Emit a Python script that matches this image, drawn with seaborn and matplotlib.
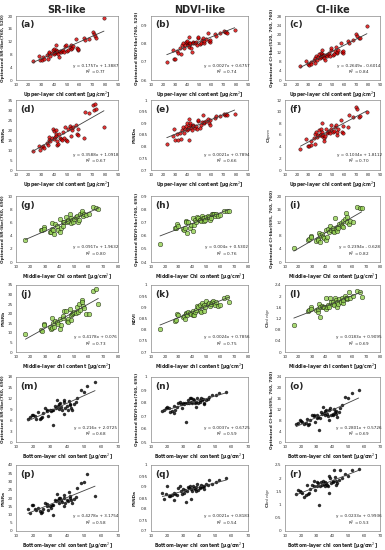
import numpy as np
import pandas as pd
import matplotlib
matplotlib.use("Agg")
import matplotlib.pyplot as plt
import seaborn as sns

### ==================== DATA ==================== ###

# chl content per layer (shared by the panels of that layer)
upper_x = [23, 28, 29, 30, 31.5, 32, 34, 35, 35.5, 36, 37, 38, 39, 39.5, 40, 40.5, 41, 41,
           41.5, 42, 42.5, 43, 44, 44.5, 45, 46, 47, 48, 48.5, 49, 50, 51, 52, 53, 53.5, 54,
           55, 57, 58, 58.5, 59, 63, 64, 67, 70, 71, 72, 73, 79]
middle_x = [16.5, 27, 28, 29, 29.5, 33, 34, 34.5, 35, 35.5, 36, 37, 38, 39, 40, 40.5, 41, 42,
            42.5, 43, 44, 45, 45.5, 46, 47, 47.5, 48, 48.5, 49, 50, 51, 52, 52.5, 53, 54, 55,
            55.5, 56, 57, 58, 60, 63, 65, 66.5]
bottom_x = [17, 18, 19.5, 20, 21, 22, 23, 24, 24.5, 25, 26, 27, 28, 28.5, 29, 30, 30.5, 31,
            31.5, 32, 33, 33.5, 34, 34.5, 35, 35.5, 36, 36.5, 37, 38, 38, 38.5, 39, 40, 40.5,
            41, 41.5, 42, 42.5, 43, 44, 45, 46, 48, 50, 52, 56.5]

# upper layer
a_y = [5.9, 7.6, 6.1, 6.1, 7.2, 6.5, 7.8, 6.7, 8.3, 8.9, 7.5, 8.4, 9.3, 8.0, 9.8, 8.4, 9.5, 8.7,
       10.9, 8.9, 9.2, 8.1, 7.3, 9.0, 8.8, 9.2, 9.5, 8.7, 10.6, 10.9, 9.0, 9.4, 10.3, 10.9, 9.8,
       10.0, 10.6, 12.8, 10.0, 9.5, 9.8, 13.1, 12.5, 12.9, 14.9, 14.3, 13.6, 13.2, 19.3]
b_y = [0.70, 0.765, 0.715, 0.715, 0.76, 0.745, 0.775, 0.74, 0.79, 0.80, 0.775, 0.79, 0.81, 0.80,
       0.815, 0.79, 0.80, 0.78, 0.835, 0.795, 0.80, 0.775, 0.755, 0.81, 0.80, 0.80, 0.81, 0.79,
       0.83, 0.835, 0.795, 0.80, 0.82, 0.83, 0.80, 0.815, 0.825, 0.855, 0.815, 0.81, 0.82, 0.85,
       0.84, 0.855, 0.87, 0.865, 0.86, 0.855, 0.875]
c_y = [6.3, 8.5, 6.8, 6.7, 8.0, 7.2, 8.8, 7.5, 9.8, 10.5, 8.6, 10.0, 11.2, 9.5, 12.0, 10.0, 11.5,
       10.4, 13.2, 10.7, 11.0, 9.6, 8.8, 11.0, 10.6, 11.2, 11.6, 10.4, 13.2, 13.8, 10.8, 11.5,
       12.6, 14.3, 11.8, 12.4, 13.2, 16.0, 12.2, 11.6, 12.5, 17.0, 16.2, 17.4, 20.0, 19.4, 18.5,
       18.2, 23.5]
d_y = [9.5, 12.0, 10.0, 11.5, 12.0, 11.0, 13.5, 12.5, 16.5, 15.0, 14.5, 16.0, 20.5, 15.5, 19.5,
       16.5, 18.0, 17.0, 20.0, 14.5, 12.5, 13.0, 18.0, 16.0, 15.5, 15.0, 19.0, 16.0, 21.5, 15.0,
       14.5, 20.5, 22.0, 21.0, 17.0, 20.0, 21.5, 22.5, 18.0, 17.5, 20.5, 16.0, 29.0, 28.5, 32.5,
       30.0, 33.0, 30.5, 21.5]
e_y = [0.81, 0.845, 0.875, 0.83, 0.855, 0.83, 0.86, 0.835, 0.87, 0.885, 0.86, 0.875, 0.89, 0.87,
       0.90, 0.875, 0.885, 0.83, 0.92, 0.895, 0.90, 0.88, 0.87, 0.895, 0.89, 0.88, 0.89, 0.875,
       0.91, 0.915, 0.88, 0.895, 0.905, 0.935, 0.90, 0.905, 0.91, 0.92, 0.90, 0.895, 0.915, 0.925,
       0.93, 0.93, 0.94, 0.935, 0.94, 0.935, 0.94]
f_y = [3.6, 5.3, 4.2, 4.2, 4.3, 5.0, 5.5, 4.5, 6.2, 6.5, 5.6, 6.0, 6.9, 6.0, 7.1, 6.1, 6.6, 5.8,
       8.1, 6.0, 5.5, 5.0, 5.9, 7.0, 6.4, 6.5, 6.7, 6.3, 7.8, 7.1, 6.5, 6.7, 7.3, 7.7, 6.0, 6.6,
       7.0, 8.6, 6.6, 6.4, 7.6, 7.4, 9.5, 9.1, 10.8, 10.5, 9.1, 9.3, 9.9]

# middle layer
g_y = [3.3, 4.9, 4.8, 5.3, 5.0, 4.6, 4.5, 5.0, 5.9, 4.8, 4.2, 5.7, 5.5, 4.8, 6.5, 4.5, 5.2, 6.1,
       5.4, 6.1, 6.8, 6.0, 6.3, 6.2, 7.3, 6.7, 5.9, 6.4, 6.0, 6.5, 6.8, 6.9, 6.1, 6.4, 7.2, 7.5,
       7.7, 7.0, 7.2, 7.1, 7.2, 8.4, 8.2, 8.1]
h_y = [0.535, 0.66, 0.66, 0.685, 0.67, 0.65, 0.64, 0.66, 0.71, 0.70, 0.62, 0.70, 0.66, 0.68,
       0.73, 0.635, 0.68, 0.72, 0.70, 0.74, 0.73, 0.72, 0.72, 0.71, 0.75, 0.73, 0.71, 0.735, 0.72,
       0.74, 0.75, 0.74, 0.72, 0.735, 0.76, 0.765, 0.76, 0.75, 0.76, 0.75, 0.755, 0.79, 0.785, 0.785]
i_y = [4.3, 6.7, 7.0, 8.0, 7.5, 6.3, 6.9, 6.6, 8.8, 8.2, 6.2, 8.6, 7.5, 7.3, 9.8, 6.8, 7.5, 10.0,
       9.0, 11.0, 9.8, 9.5, 10.2, 9.0, 13.2, 10.0, 9.5, 10.5, 10.2, 11.5, 11.8, 11.0, 10.5, 12.5,
       13.0, 14.7, 13.5, 12.0, 11.5, 12.5, 12.0, 16.6, 16.3, 16.3]
j_y = [9.2, 11.5, 11.2, 14.5, 14.2, 13.0, 12.0, 12.5, 18.0, 15.0, 12.8, 16.0, 15.5, 14.5, 17.0,
       12.0, 14.0, 18.0, 19.0, 21.5, 21.5, 16.0, 17.5, 15.8, 22.5, 19.5, 16.5, 20.0, 20.5, 21.0,
       20.5, 23.5, 21.0, 25.0, 22.0, 27.0, 26.0, 24.0, 23.0, 20.0, 20.0, 32.0, 33.0, 25.0]
k_y = [0.805, 0.84, 0.845, 0.87, 0.865, 0.855, 0.86, 0.85, 0.875, 0.87, 0.865, 0.88, 0.875, 0.87,
       0.885, 0.865, 0.865, 0.88, 0.89, 0.905, 0.90, 0.885, 0.91, 0.88, 0.92, 0.905, 0.885, 0.91,
       0.90, 0.93, 0.915, 0.92, 0.905, 0.915, 0.925, 0.93, 0.92, 0.91, 0.925, 0.905, 0.91, 0.94,
       0.945, 0.925]
l_y = [0.98, 1.48, 1.50, 1.60, 1.55, 1.50, 1.42, 1.55, 1.72, 1.60, 1.25, 1.65, 1.62, 1.62, 1.92,
       1.55, 1.60, 1.70, 1.62, 1.95, 1.80, 1.72, 1.78, 1.70, 1.95, 1.85, 1.60, 1.80, 1.72, 1.90,
       1.80, 1.92, 1.75, 1.85, 2.00, 1.95, 1.90, 1.92, 2.15, 1.95, 2.00, 2.18, 2.15, 1.98]

# bottom layer
m_y = [6.5, 6.8, 7.5, 7.4, 7.2, 6.5, 8.3, 6.3, 6.6, 6.8, 8.0, 9.3, 9.0, 8.7, 7.2, 9.0, 8.5, 8.8,
       4.8, 9.0, 10.0, 9.5, 11.6, 10.0, 10.5, 9.2, 10.8, 9.8, 9.0, 7.8, 11.0, 11.7, 9.5, 10.0, 9.0,
       11.3, 10.2, 10.5, 9.5, 8.8, 10.5, 11.0, 12.2, 14.5, 13.8, 15.5, 16.5]
n_y = [0.735, 0.75, 0.76, 0.77, 0.76, 0.73, 0.735, 0.78, 0.725, 0.745, 0.77, 0.80, 0.81, 0.79,
       0.76, 0.80, 0.79, 0.80, 0.655, 0.80, 0.82, 0.80, 0.84, 0.81, 0.835, 0.80, 0.83, 0.82, 0.80,
       0.77, 0.81, 0.84, 0.80, 0.82, 0.81, 0.84, 0.82, 0.83, 0.80, 0.79, 0.82, 0.83, 0.85, 0.86,
       0.865, 0.875, 0.885]
o_y = [6.6, 7.0, 8.0, 7.8, 7.5, 6.5, 7.0, 8.5, 6.3, 6.8, 8.0, 10.0, 9.8, 9.5, 7.5, 9.8, 9.0, 9.2,
       4.5, 9.0, 11.0, 10.5, 12.8, 10.8, 11.5, 10.0, 12.0, 10.5, 9.5, 8.2, 12.0, 12.5, 10.0, 10.5,
       10.0, 12.3, 11.0, 11.5, 10.5, 9.3, 11.0, 12.5, 13.8, 16.8, 16.2, 18.0, 19.3]
p_y = [13.2, 11.0, 16.0, 15.8, 13.5, 13.0, 14.0, 12.0, 11.0, 11.5, 13.5, 17.0, 16.5, 15.0, 13.0,
       15.0, 14.0, 16.0, 9.5, 15.5, 19.0, 18.0, 22.5, 19.0, 20.0, 17.0, 20.0, 19.0, 17.5, 15.0,
       20.0, 22.0, 17.0, 19.0, 18.0, 23.5, 20.0, 21.0, 18.5, 17.0, 19.5, 20.5, 26.0, 29.0, 30.0,
       34.5, 21.0]
q_y = [0.875, 0.845, 0.87, 0.905, 0.86, 0.86, 0.865, 0.875, 0.84, 0.87, 0.865, 0.895, 0.905, 0.88,
       0.87, 0.89, 0.875, 0.885, 0.83, 0.88, 0.90, 0.895, 0.905, 0.89, 0.845, 0.88, 0.905, 0.895,
       0.89, 0.88, 0.90, 0.915, 0.885, 0.90, 0.895, 0.91, 0.90, 0.905, 0.89, 0.905, 0.915, 0.91,
       0.93, 0.915, 0.925, 0.93, 0.94]
r_y = [1.40, 1.55, 1.50, 1.48, 1.45, 1.30, 1.38, 1.75, 1.42, 1.45, 1.60, 1.75, 1.90, 1.70, 1.55,
       1.85, 1.70, 1.80, 1.00, 1.70, 1.85, 1.75, 1.90, 1.78, 1.85, 1.72, 1.80, 1.75, 1.70, 1.45,
       2.10, 2.00, 1.80, 1.85, 1.90, 2.30, 2.05, 1.90, 1.75, 1.80, 1.95, 2.30, 2.00, 2.15, 2.10,
       2.30, 2.35]

col_titles = ["SR-like", "NDVI-like", "CI-like"]
letters = list("abcdefghijklmnopqr")
equations = ["y = 0.1757x + 1.3887", "y = 0.0027x + 0.6757", "y = 0.2649x - 0.6014",
             "y = 0.3588x + 1.0918", "y = 0.0021x + 0.7894", "y = 0.1034x + 1.8112",
             "y = 0.0917x + 1.9632", "y = 0.004x + 0.5302", "y = 0.2394x - 0.628",
             "y = 0.4178x + 0.076", "y = 0.0024x + 0.7856", "y = 0.0183x + 0.9095",
             "y = 0.216x + 2.0725", "y = 0.0037x + 0.6725", "y = 0.2801x + 0.5726",
             "y = 0.4278x + 3.1754", "y = 0.0021x + 0.8183", "y = 0.0233x + 0.9936"]
r2_values = ["0.77", "0.74", "0.84", "0.67", "0.66", "0.70", "0.80", "0.76", "0.82",
             "0.73", "0.75", "0.69", "0.68", "0.59", "0.69", "0.58", "0.54", "0.53"]
y_labels = ["Optimized SR-like(760, 520)", "Optimized NDVI-like(760, 520)",
            "Optimized CI-like(520, 760, 760)",
            "PSSRa", "PSNDa", "CI$_{green}$",
            "Optimized SR-like(760, 690)", "Optimized NDVI-like(760, 695)",
            "Optimized CI-like(695, 760, 760)",
            "PSSRb", "NDVI", "CI$_{red\\ edge}$",
            "Optimized SR-like(760, 690)", "Optimized NDVI-like(760, 695)",
            "Optimized CI-like(695, 760, 780)",
            "PSSRa", "PSNDa", "CI$_{red\\ edge}$"]
x_labels = ["Upper-layer chl content [\u03bcg/cm$^2$]",
            "Upper-layer chl content [\u03bcg/cm$^2$]",
            "Middle-layer Chl content [\u03bcg/cm$^2$]",
            "Middle-layer chl content [\u03bcg/cm$^2$]",
            "Bottom-layer chl content [\u03bcg/cm$^2$]",
            "Bottom-layer chl content [\u03bcg/cm$^2$]"]

# y axis (min, max, step) per panel
y_ranges = [(0, 20, 4), (0.6, 0.95, 0.1), (0, 28, 4),
            (0, 35, 5), (0.7, 1.0, 0.05), (0, 12, 2),
            (0, 10, 2), (0.4, 0.9, 0.1), (0, 20, 4),
            (0, 35, 5), (0.7, 1.0, 0.05), (0, 2.4, 0.4),
            (0, 18, 3), (0.5, 1.0, 0.1), (0, 24, 4),
            (0, 40, 5), (0.7, 1.0, 0.05), (0, 2.5, 0.5)]

panel_y = [a_y, b_y, c_y, d_y, e_y, f_y, g_y, h_y, i_y,
           j_y, k_y, l_y, m_y, n_y, o_y, p_y, q_y, r_y]

### ==================== PLOT ==================== ###

sns.set_style("white")
plt.rcParams['font.family'] = ['DejaVu Sans']

W, H = 385, 550
fig = plt.figure(figsize=(W / 100, H / 100), dpi=100)

col_left = [16, 151, 285]
col_width = [102, 97, 95]
row_top = [16, 100, 196, 285, 377, 465]
row_bottom = [80, 170, 262, 352, 442, 531]

layer_x = [upper_x, upper_x, middle_x, middle_x, bottom_x, bottom_x]
x_max = [90, 90, 80, 80, 70, 70]
marker_style = [
    dict(marker="D", s=6, color="#e00000", edgecolor="black", linewidths=0.35),
    dict(marker="D", s=6, color="#e00000", edgecolor="black", linewidths=0.35),
    dict(marker="o", s=11, color="#92d050", edgecolor="black", linewidths=0.35),
    dict(marker="o", s=11, color="#92d050", edgecolor="black", linewidths=0.35),
    dict(marker="D", s=5, color="black", edgecolor="black", linewidths=0.2),
    dict(marker="D", s=5, color="black", edgecolor="black", linewidths=0.2),
]

for idx in range(18):
    row, col = divmod(idx, 3)
    l = col_left[col] / W
    b = 1 - row_bottom[row] / H
    w = col_width[col] / W
    h = (row_bottom[row] - row_top[row]) / H
    ax = fig.add_axes([l, b, w, h])

    df = pd.DataFrame({"x": layer_x[row], "y": panel_y[idx]})
    sns.regplot(data=df, x="x", y="y", ax=ax, ci=None, truncate=True,
                scatter_kws=marker_style[row],
                line_kws=dict(color="#404040", lw=0.6))

    ymin, ymax, ystep = y_ranges[idx]
    ax.set_xlim(10, x_max[row])
    ax.set_xticks(np.arange(10, x_max[row] + 1, 10))
    ax.set_ylim(ymin, ymax)
    yt = np.arange(ymin, ymax + ystep * 0.01, ystep)
    ax.set_yticks(yt)
    ax.set_yticklabels([f"{v:g}" for v in np.round(yt, 2)])
    ax.tick_params(labelsize=3.0, length=1.5, width=0.4, pad=1, colors="#333333")
    for sp in ax.spines.values():
        sp.set_color("#888888")
        sp.set_linewidth(0.5)

    ax.set_xlabel(x_labels[row], fontsize=3.3, fontweight="bold", labelpad=1.5)
    ax.set_ylabel(y_labels[idx], fontsize=3.1, fontweight="bold", labelpad=1.5)

    ax.text(0.04, 0.93, f"({letters[idx]})", transform=ax.transAxes,
            fontsize=6.5, fontweight="bold", va="top", ha="left")
    ax.text(0.78, 0.22, equations[idx], transform=ax.transAxes,
            fontsize=3.0, ha="center", va="center")
    ax.text(0.78, 0.12, f"R$^2$ = {r2_values[idx]}", transform=ax.transAxes,
            fontsize=3.0, ha="center", va="center")

# column titles
for col, title in enumerate(col_titles):
    cx = (col_left[col] + col_width[col] / 2) / W
    fig.text(cx, 1 - 10 / H, title, fontsize=7, fontweight="bold",
             ha="center", va="center")

fig.savefig("out.png", dpi=100)
